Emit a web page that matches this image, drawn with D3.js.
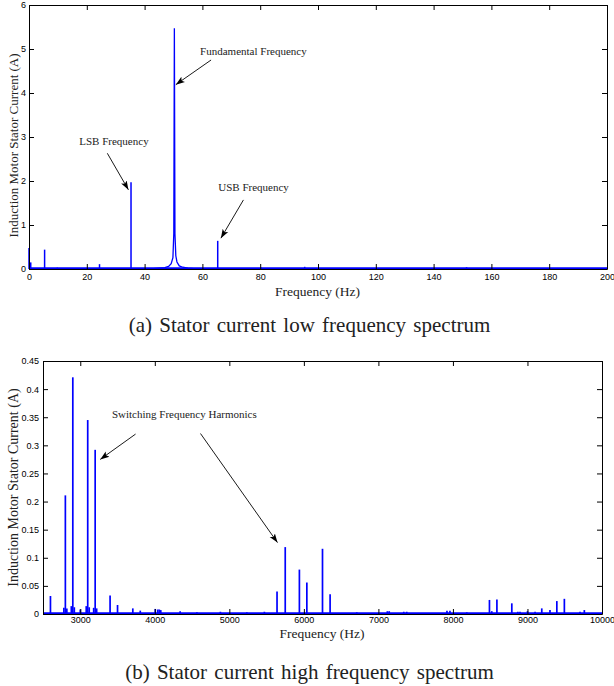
<!DOCTYPE html>
<html>
<head>
<meta charset="utf-8">
<script src="https://cdn.jsdelivr.net/npm/d3@7"></script>
<style>
body { margin: 0; background: #fff; }
.tick text { font-family: "Liberation Sans", Arial, sans-serif; font-size: 9px; fill: #000; }
.serif { font-family: "Liberation Serif", "Times New Roman", serif; fill: #222; }
</style>
</head>
<body>
<svg class="SpectrumChart" width="614" height="686"></svg>
<script>
// (a) low frequency spectrum: spectral lines
var lowPeakFreq = [0, 0.6, 5.4, 9.8, 24.4, 35.3, 65.3, 80.4, 84.8, 95.4, 124.8, 151.4];
var lowPeakAmp  = [0.48, 0.15, 0.44, 0.03, 0.11, 1.97, 0.64, 0.03, 0.02, 0.05, 0.01, 0.04];
// skirt around the 50 Hz fundamental
var fundFreq = [43, 45, 47, 48.3, 49.2, 49.8, 50.1, 50.3, 50.5, 50.8, 51.2, 52, 53.2, 55, 57];
var fundAmp  = [0.01, 0.02, 0.03, 0.06, 0.12, 0.26, 0.8, 5.47, 0.8, 0.3, 0.16, 0.07, 0.04, 0.02, 0.01];
var lowXTicks = [0, 20, 40, 60, 80, 100, 120, 140, 160, 180, 200];
var lowYTicks = [0, 1, 2, 3, 4, 5, 6];

// (b) high frequency spectrum
var highPeakFreq = [2600, 2780, 2800, 2820, 2880, 2900, 2920, 3000, 3080, 3100, 3120, 3180, 3200, 3220,
    3400, 3500, 3705, 3805, 4006, 4040, 4060, 4080, 4340, 4565, 4880, 5235, 5470,
    5640, 5750, 5940, 6040, 6250, 6352, 6710, 7120, 7145, 7340, 7380, 7920, 7960, 8186,
    8490, 8521, 8590, 8790, 8870, 8900, 9000, 9102, 9192, 9302, 9394, 9495, 9705, 9763];
var highPeakAmp  = [0.032, 0.011, 0.211, 0.010, 0.014, 0.421, 0.012, 0.008, 0.014, 0.345, 0.012, 0.011, 0.292, 0.010,
    0.033, 0.016, 0.010, 0.006, 0.009, 0.008, 0.008, 0.007, 0.005, 0.003, 0.004, 0.003, 0.004,
    0.040, 0.119, 0.079, 0.056, 0.116, 0.035, 0.003, 0.005, 0.005, 0.004, 0.004, 0.006, 0.006, 0.003,
    0.025, 0.005, 0.026, 0.019, 0.004, 0.004, 0.005, 0.004, 0.010, 0.007, 0.023, 0.027, 0.004, 0.007];
var highXTicks = [3000, 4000, 5000, 6000, 7000, 8000, 9000, 10000];
var highYTicks = [0, 0.05, 0.1, 0.15, 0.2, 0.25, 0.3, 0.35, 0.4, 0.45];

// annotations, in data units: [label, textX, textY, arrows [[x1,y1,x2,y2]]]
var lowNotes = [
    ["Fundamental Frequency", 59.2, 4.87, [[63.0, 4.75, 50.8, 4.19]]],
    ["LSB Frequency", 17.4, 2.82, [[27.1, 2.63, 34.4, 1.80]]],
    ["USB Frequency", 65.5, 1.77, [[74.2, 1.57, 66.4, 0.70]]]
];
var highNotes = [
    ["Switching Frequency Harmonics", 3425, 0.348, [[3742, 0.320, 3268, 0.275], [4613, 0.321, 5646, 0.127]]]
];

var svg = d3.select(".SpectrumChart");

svg.append('defs').append('marker')
    .attr('id', 'arrow')
    .attr('markerUnits', 'userSpaceOnUse')
    .attr('viewBox', '0 -4 9 8')
    .attr('markerWidth', 9)
    .attr('markerHeight', 8)
    .attr('refX', 9)
    .attr('refY', 0)
    .attr('orient', 'auto')
    .append('path')
    .attr('d', 'M0,-3.2L9,0L0,3.2L2,0Z')
    .attr('fill', '#000');

function renderPanel(meta)
{
    const g = svg.append('g');
    const xScale = d3.scaleLinear().domain(meta.xDomain).range([meta.left, meta.right]);
    const yScale = d3.scaleLinear().domain(meta.yDomain).range([meta.bottom, meta.top]);
    const blue = "#0000ff";

    // floor of the spectrum
    g.append('path')
        .datum(meta.xDomain)
        .attr('d', d3.line().x(d => xScale(d)).y(d => yScale(0) - 0.8))
        .attr('stroke', blue)
        .attr('stroke-width', 1.8)
        .attr('fill', 'none');

    if (meta.skirtFreq) {
        g.append('path')
            .datum(d3.zip(meta.skirtFreq, meta.skirtAmp))
            .attr('d', d3.line().x(d => xScale(d[0])).y(d => yScale(d[1])))
            .attr('stroke', blue)
            .attr('stroke-width', 1.3)
            .attr('fill', 'none');
    }

    g.selectAll('.stem')
        .data(d3.zip(meta.freq, meta.amp))
        .join('line')
        .attr('class', 'stem')
        .attr('x1', d => xScale(d[0]))
        .attr('x2', d => xScale(d[0]))
        .attr('y1', yScale(0))
        .attr('y2', d => yScale(d[1]))
        .attr('stroke', blue)
        .attr('stroke-width', meta.stemWidth);

    // box with inward ticks on all four sides
    const fmt = d3.format('~g');
    g.append('g')
        .attr('transform', `translate(0,${meta.bottom})`)
        .call(d3.axisBottom(xScale).tickValues(meta.xTicks).tickFormat(fmt)
            .tickSizeInner(-5).tickSizeOuter(0).tickPadding(meta.xPad));
    g.append('g')
        .attr('transform', `translate(0,${meta.top})`)
        .call(d3.axisTop(xScale).tickValues(meta.xTicks).tickFormat('')
            .tickSizeInner(-5).tickSizeOuter(0));
    g.append('g')
        .attr('transform', `translate(${meta.left},0)`)
        .call(d3.axisLeft(yScale).tickValues(meta.yTicks).tickFormat(fmt)
            .tickSizeInner(-5).tickSizeOuter(0).tickPadding(meta.yPad));
    g.append('g')
        .attr('transform', `translate(${meta.right},0)`)
        .call(d3.axisRight(yScale).tickValues(meta.yTicks).tickFormat('')
            .tickSizeInner(-5).tickSizeOuter(0));
    g.selectAll('.domain, .tick line').attr('stroke', '#000').attr('stroke-width', 1);

    g.append('text')
        .attr('class', 'serif')
        .attr('text-anchor', 'middle')
        .attr('x', meta.xLabelPos[0])
        .attr('y', meta.xLabelPos[1])
        .style('font-size', meta.labelSize + 'px')
        .text("Frequency (Hz)");

    g.append('text')
        .attr('class', 'serif')
        .attr('text-anchor', 'middle')
        .attr('transform', `translate(${meta.yLabelPos[0]},${meta.yLabelPos[1]}) rotate(-90)`)
        .style('font-size', meta.yLabelSize + 'px')
        .text("Induction Motor Stator Current (A)");

    meta.notes.forEach(n => {
        g.append('text')
            .attr('class', 'serif')
            .attr('x', xScale(n[1]))
            .attr('y', yScale(n[2]))
            .style('font-size', '11px')
            .text(n[0]);
        n[3].forEach(a => {
            g.append('line')
                .attr('x1', xScale(a[0])).attr('y1', yScale(a[1]))
                .attr('x2', xScale(a[2])).attr('y2', yScale(a[3]))
                .attr('stroke', '#000')
                .attr('stroke-width', 0.9)
                .attr('marker-end', 'url(#arrow)');
        });
    });

    svg.append('text')
        .attr('class', 'serif')
        .attr('text-anchor', 'middle')
        .attr('x', 309.5)
        .attr('y', meta.captionY)
        .style('font-size', '21px')
        .style('word-spacing', '2px')
        .text(meta.caption);
}

renderPanel({
    xDomain: [0, 200], yDomain: [0, 6],
    left: 29, right: 607, top: 5, bottom: 269,
    freq: lowPeakFreq, amp: lowPeakAmp,
    skirtFreq: fundFreq, skirtAmp: fundAmp,
    stemWidth: 1.5,
    xTicks: lowXTicks, yTicks: lowYTicks, xPad: 5, yPad: 3,
    xLabelPos: [317.5, 295.5], labelSize: 13.5,
    yLabelPos: [17.5, 145.5], yLabelSize: 13,
    notes: lowNotes,
    caption: "(a) Stator current low frequency spectrum", captionY: 332
});

renderPanel({
    xDomain: [2500, 10000], yDomain: [0, 0.45],
    left: 43, right: 602, top: 361, bottom: 614,
    freq: highPeakFreq, amp: highPeakAmp,
    stemWidth: 1.7,
    xTicks: highXTicks, yTicks: highYTicks, xPad: 3, yPad: 4,
    xLabelPos: [322, 637.5], labelSize: 13.5,
    yLabelPos: [18, 487.5], yLabelSize: 14,
    notes: highNotes,
    caption: "(b) Stator current high frequency spectrum", captionY: 679
});
</script>
</body>
</html>
